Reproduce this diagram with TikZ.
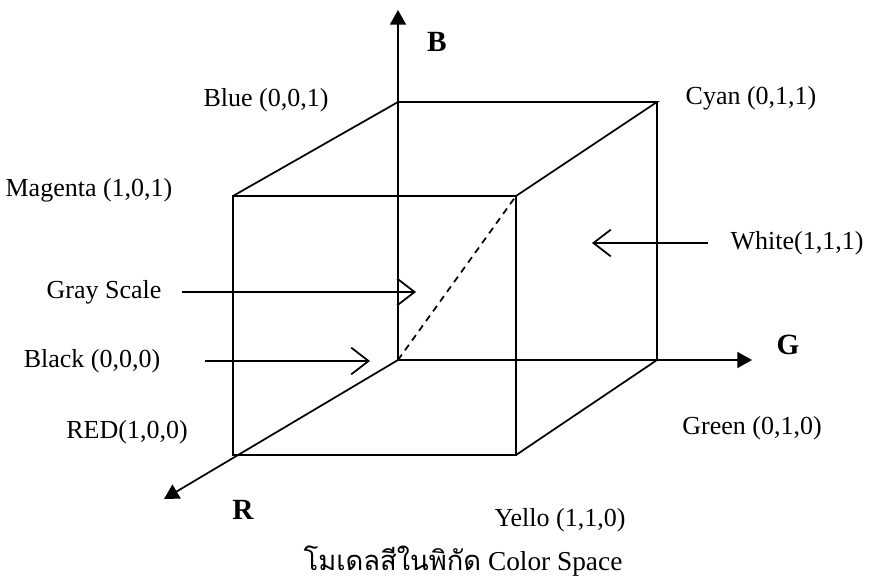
\documentclass[tikz,border=0pt]{standalone}
\usepackage{fontspec}
\setmainfont{Liberation Serif}
\newfontfamily\thaifont[Script=Thai]{Loma}
\usetikzlibrary{arrows.meta}

\tikzset{
    axis/.style={line width=1.3pt, -{Triangle[length=11pt,width=12pt]}},
    edge/.style={line width=1.3pt},
    pointer/.style={line width=1.3pt, -{Straight Barb[length=13pt,width=20pt]}},
    lbl/.style={font=\fontsize{19.5}{23}\selectfont, inner sep=0pt},
    axlbl/.style={font=\fontsize{22}{26}\selectfont\bfseries, inner sep=0pt}
}

\begin{document}
\begin{tikzpicture}[x=0.75pt, y=-0.75pt]
    \useasboundingbox (0,0) rectangle (870,584);

    % Cube corners
    \coordinate (black) at (398,360);
    \coordinate (blue) at (398,102);
    \coordinate (cyan) at (657,102);
    \coordinate (green) at (657,360);
    \coordinate (magenta) at (233,196);
    \coordinate (white) at (516,196);
    \coordinate (red) at (233,455);
    \coordinate (yellow) at (516,455);

    % Axes
    \coordinate (bTip) at (398,10);
    \coordinate (gTip) at (752,360);
    \coordinate (rTip) at (164,499);
    \draw[axis] (black) -- (bTip);
    \draw[axis] (black) -- (gTip);
    \draw[axis] (black) -- (rTip);

    % Cube edges
    \draw[edge] (magenta) -- (white) -- (yellow) -- (red) -- cycle;
    \draw[edge] (magenta) -- (blue) -- (cyan) -- (white);
    \draw[edge] (cyan) -- (green) -- (yellow);

    % Gray scale diagonal
    \draw[edge, dash pattern=on 5pt off 4pt] (black) -- (white);

    % Axis labels
    \node[axlbl] (bLabel) at (437,42) {B};
    \node[axlbl] (gLabel) at (788,345) {G};
    \node[axlbl] (rLabel) at (243,510) {R};

    % Corner labels
    \node[lbl] (blueLabel) at (266,100) {Blue (0,0,1)};
    \node[lbl] (cyanLabel) at (751,98) {Cyan (0,1,1)};
    \node[lbl] (magentaLabel) at (89,190) {Magenta (1,0,1)};
    \node[lbl] (whiteLabel) at (797,243) {White(1,1,1)};
    \node[lbl] (grayLabel) at (104,292) {Gray Scale};
    \node[lbl] (blackLabel) at (92,361) {Black (0,0,0)};
    \node[lbl] (redLabel) at (127,432) {RED(1,0,0)};
    \node[lbl] (greenLabel) at (752,428) {Green (0,1,0)};
    \node[lbl] (yellowLabel) at (560,520) {Yello (1,1,0)};

    % Pointers
    \coordinate (grayTip) at (416,292);
    \coordinate (blackTip) at (370,361);
    \coordinate (whiteTip) at (592,243);
    \draw[pointer, shorten <=15pt] (grayLabel.east) -- (grayTip);
    \draw[pointer, shorten <=33pt] (blackLabel.east) -- (blackTip);
    \draw[pointer, shorten <=17pt] (whiteLabel.west) -- (whiteTip);

    % Caption
    \node[font=\fontsize{20.5}{24}\selectfont, inner sep=0pt] (caption) at (463,561)
        {{\thaifont โมเดลสีในพิกัด} Color Space};
\end{tikzpicture}
\end{document}
